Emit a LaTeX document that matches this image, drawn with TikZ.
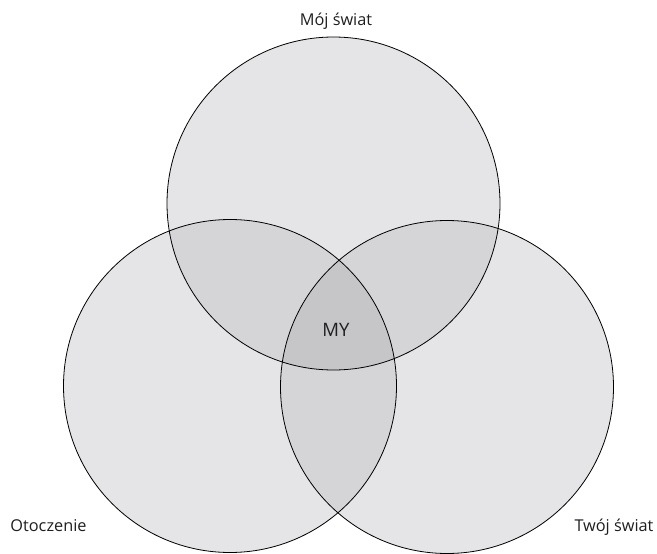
\documentclass[tikz,border=0pt]{standalone}
\usepackage{fontspec}
\setmainfont{Open Sans}
\definecolor{jeden}{HTML}{E5E5E7}
\definecolor{dwa}{HTML}{D5D5D7}
\definecolor{trzy}{HTML}{C6C6C8}
\tikzset{
  okrag/.style={draw=black, line width=0.8pt},
  etykieta/.style={font=\fontsize{16.3}{18}\selectfont, text=black!88, inner sep=0pt, anchor=base}
}
\begin{document}
\begin{tikzpicture}[x=1pt,y=-1pt]
    \useasboundingbox (0,0) rectangle (657,554);
    % Srodki
    \coordinate (moj) at (333.5,203.5);
    \coordinate (oto) at (230,386);
    \coordinate (twoj) at (447,387);
    \def\r{166.5}

    % Tlo kol
    \fill[jeden] (moj) circle (\r);
    \fill[jeden] (oto) circle (\r);
    \fill[jeden] (twoj) circle (\r);

    % Czesci wspolne
    \begin{scope}
        \clip (moj) circle (\r);
        \fill[dwa] (oto) circle (\r);
        \fill[dwa] (twoj) circle (\r);
    \end{scope}
    \begin{scope}
        \clip (oto) circle (\r);
        \fill[dwa] (twoj) circle (\r);
    \end{scope}
    \begin{scope}
        \clip (moj) circle (\r);
        \clip (oto) circle (\r);
        \fill[trzy] (twoj) circle (\r);
    \end{scope}

    % Obrysy
    \draw[okrag] (moj) circle (\r);
    \draw[okrag] (oto) circle (\r);
    \draw[okrag] (twoj) circle (\r);

    % Podpisy
    \node[etykieta] (mojswiat) at (336,25) {Mój świat};
    \node[etykieta] (otoczenie) at (48.5,531) {Otoczenie};
    \node[etykieta] (twojswiat) at (614,531) {Twój świat};
    \node[etykieta, font=\fontsize{18.5}{20}\selectfont] (my) at (336,336.5) {MY};
\end{tikzpicture}
\end{document}
